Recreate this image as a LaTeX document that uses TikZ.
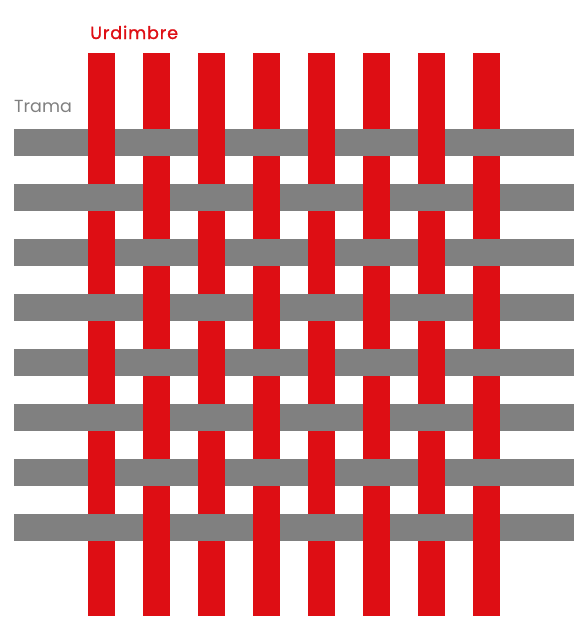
\documentclass[tikz,border=0pt]{standalone}
\usepackage{fontspec}
\setmainfont{Poppins}
\newfontfamily\urdfont[LetterSpace=5,FakeBold=1.2]{Poppins}
\definecolor{warp}{RGB}{222,14,20}
\definecolor{weft}{RGB}{128,128,128}

\begin{document}
\begin{tikzpicture}[
      x=1pt, y=-1pt,
      warpbar/.style={fill=warp},
      weftbar/.style={fill=weft},
      label/.style={anchor=base west, inner sep=0pt,
                    font=\fontsize{17.5}{17.5}\selectfont}]

    \useasboundingbox (0,0) rectangle (574,632);

    \node[label, text=warp, font=\urdfont\fontsize{17.5}{17.5}\selectfont]
      (urdimbre) at (90,39) {Urdimbre};
    \node[label, text=weft] (trama) at (14,112) {Trama};

    % trama
    \foreach \j in {0,...,7}
      \fill[weftbar] (14,129+55*\j) rectangle (574,156+55*\j);

    % urdimbre
    \foreach \i in {0,...,7}
      \fill[warpbar] (88+55*\i,53) rectangle (115+55*\i,616);

    % crossings where the trama lies on top
    \foreach \i in {0,...,7}
      \foreach \j in {0,...,7}{
        \pgfmathtruncatemacro{\top}{mod(\i+\j,2)}
        \ifnum\top=1
          \fill[weftbar] (88+55*\i,129+55*\j) rectangle (115+55*\i,156+55*\j);
        \fi
      }
  \end{tikzpicture}
\end{document}
